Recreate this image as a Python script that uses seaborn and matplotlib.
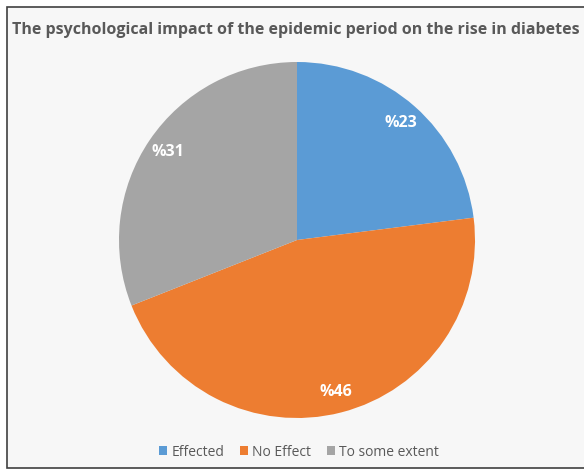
import matplotlib
matplotlib.use("Agg")
import matplotlib.pyplot as plt
import seaborn as sns
from matplotlib.patches import Rectangle

# Data
categories = ['Effected', 'No Effect', 'To some extent']
shares = [23, 46, 31]
slice_colors = ['#5B9BD5', '#ED7D31', '#A5A5A5']
title = 'The psychological impact of the epidemic period on the rise in diabetes'

sns.set_theme(style='white')
plt.rcParams['font.family'] = ['Open Sans', 'DejaVu Sans']

fig = plt.figure(figsize=(5.84, 4.74), dpi=100)
fig.patch.set_facecolor('white')

# chart area frame
fig.patches.append(Rectangle((7 / 584, 6 / 474), 1.2, 1 - 13 / 474, transform=fig.transFigure,
                             facecolor='#F7F7F7', edgecolor='#404040', linewidth=1.2, zorder=-10))

ax = fig.add_axes([(297 - 178) / 584, (474 - 240 - 178) / 474, 356 / 584, 356 / 474])
ax.set_facecolor('none')
ax.set_zorder(5)

wedges, texts, autotexts = ax.pie(
    shares, colors=slice_colors, startangle=90, counterclock=False,
    autopct=lambda p: f'%{p:.0f}', pctdistance=0.88,
    wedgeprops=dict(linewidth=0),
    textprops=dict(color='white', fontsize=11.5, fontweight='bold'))
ax.set_aspect('equal')
ax.set_xlim(-1, 1)
ax.set_ylim(-1, 1)

fig.text(12 / 584, 1 - 30 / 474, title, fontsize=11.5, fontweight='bold', color='#595959',
         va='center', ha='left')

fig.legend(wedges, categories, loc='center', bbox_to_anchor=(299 / 584, 1 - 452 / 474),
           ncol=3, frameon=False, fontsize=10, handlelength=0.6, handleheight=0.6,
           handletextpad=0.3, columnspacing=1.1, labelcolor='#595959')

fig.savefig('out.png', dpi=100)
